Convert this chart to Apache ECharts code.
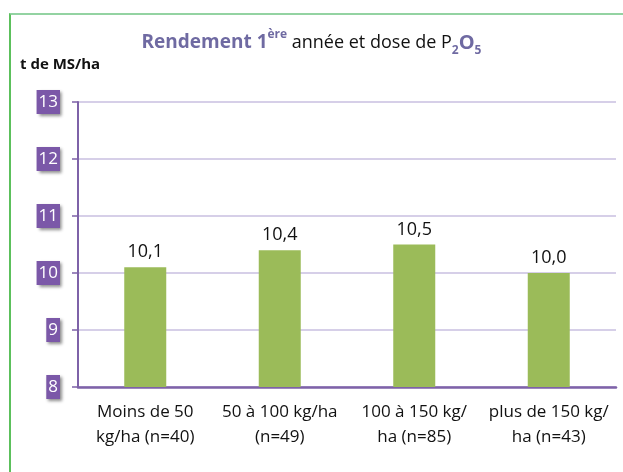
<!DOCTYPE html>
<html><head><meta charset="utf-8">
<script src="https://cdn.jsdelivr.net/npm/echarts@6/dist/echarts.min.js"></script>
<style>
html,body{margin:0;padding:0;background:#fff;}
#frame{position:absolute;left:9px;top:13px;width:614px;height:459px;border-top:2px solid #93d3a2;border-left:2px solid #5cc05c;box-sizing:border-box;}
#c{position:absolute;left:0;top:0;width:623px;height:472px;}
</style></head>
<body>
<div id="frame"></div>
<div id="c"></div>
<script>
const categories = ["Moins de 50\nkg/ha (n=40)", "50 à 100 kg/ha\n(n=49)", "100 à 150 kg/\nha (n=85)", "plus de 150 kg/\nha (n=43)"];
const values = [10.1, 10.4, 10.5, 10.0];
const yTicks = [8, 9, 10, 11, 12, 13];

const chart = echarts.init(document.getElementById('c'));
const font = '"Open Sans", "Noto Sans", sans-serif';
const purple = '#6f6aa2';
chart.setOption({
  animation: false,
  title: {
    text: '{b|Rendement 1}{sup|ère}{n| année et dose de P}{sub|2}{bo|O}{subb|5}',
    left: 'center', top: 24,
    textStyle: {
      fontWeight: 'normal',
      rich: {
        b: {fontFamily: font, fontWeight: 'bold', fontSize: 19, color: purple, lineHeight: 28},
        sup: {fontFamily: font, fontWeight: 'bold', fontSize: 12, color: purple, lineHeight: 18, verticalAlign: 'top'},
        n: {fontFamily: font, fontWeight: 'normal', fontSize: 18, color: '#111', lineHeight: 28},
        sub: {fontFamily: font, fontWeight: 'bold', fontSize: 12, color: purple, lineHeight: 12, verticalAlign: 'bottom'},
        bo: {fontFamily: font, fontWeight: 'bold', fontSize: 20, color: purple, lineHeight: 28},
        subb: {fontFamily: font, fontWeight: 'bold', fontSize: 12, color: purple, lineHeight: 12, verticalAlign: 'bottom'}
      }
    }
  },
  graphic: [{
    type: 'text', left: 20, top: 57,
    style: {text: 't de MS/ha', font: 'bold 15px ' + font, fill: '#111'}
  }],
  grid: {left: 78, right: 7, top: 102, bottom: 85},
  xAxis: {
    type: 'category', data: categories,
    axisLine: {lineStyle: {color: '#7e62a8', width: 2.5}},
    axisTick: {show: false},
    axisLabel: {fontFamily: font, fontSize: 17, color: '#111', lineHeight: 25, margin: 13, interval: 0}
  },
  yAxis: {
    type: 'value', min: yTicks[0], max: yTicks[yTicks.length-1], interval: 1,
    axisLine: {show: true, lineStyle: {color: '#7e62a8', width: 2}},
    axisTick: {show: true, length: 6, lineStyle: {color: '#7e62a8', width: 1.5}},
    splitLine: {lineStyle: {color: '#c9bfe0', width: 1.5}},
    axisLabel: {
      fontFamily: font, fontSize: 17, color: '#fff', margin: 18,
      backgroundColor: '#7b58a8', padding: [4, 2, 3, 2],
      shadowColor: 'rgba(0,0,0,0.45)', shadowBlur: 3, shadowOffsetX: 2, shadowOffsetY: 2
    }
  },
  series: [{
    type: 'bar', data: values, barWidth: 42,
    itemStyle: {color: '#9bbb59'},
    label: {show: true, position: 'top', distance: 6, fontFamily: font, fontSize: 18, color: '#111',
      formatter: p => p.value.toFixed(1).replace('.', ',')}
  }]
});
</script>
</body></html>
